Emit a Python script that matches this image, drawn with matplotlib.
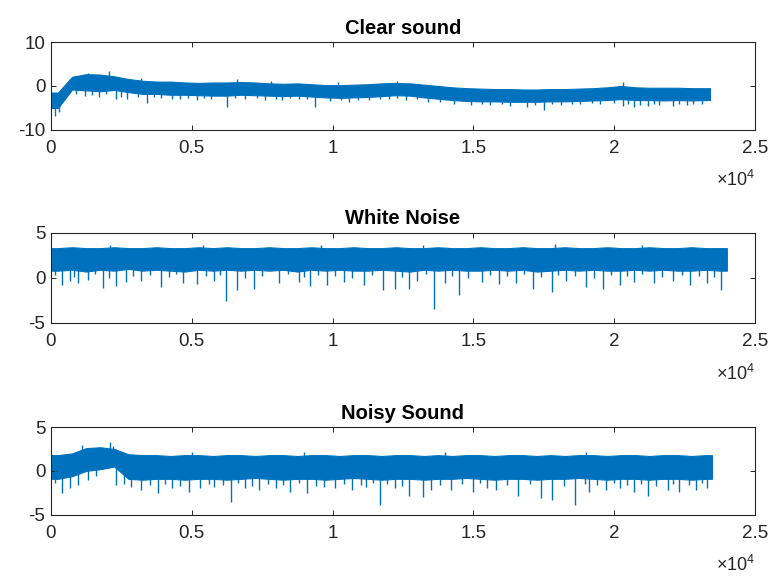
import numpy as np
import matplotlib
matplotlib.use("Agg")
import matplotlib.pyplot as plt

plt.rcParams['font.family'] = ['Liberation Sans', 'DejaVu Sans']
plt.rcParams['mathtext.fontset'] = 'custom'
plt.rcParams['mathtext.rm'] = 'Liberation Sans'
plt.rcParams['axes.unicode_minus'] = False

BIN = 500  # samples per envelope bin

# --- clear sound: envelope per 500-sample bin, plus single dips/peaks
clear_end = 23400
clear_upper = [-1.5, 2.1, 2.7, 2.6, 2.2, 1.6, 1.2, 1.0, 1.0, 0.8,
               0.7, 0.8, 0.8, 0.9, 0.8, 0.6, 0.5, 0.6, 0.4, 0.2,
               0.2, 0.3, 0.4, 0.6, 0.7, 0.6, 0.3, 0.0, -0.3, -0.5,
               -0.6, -0.7, -0.7, -0.8, -0.8, -0.7, -0.7, -0.6, -0.5, -0.3,
               0.0, -0.3, -0.4, -0.4, -0.4, -0.5, -0.5]
clear_lower = [-5.0, -0.8, -1.0, -1.2, -0.9, -1.4, -1.8, -1.8, -2.0, -2.0,
               -2.1, -2.2, -2.2, -2.0, -2.1, -2.2, -2.3, -2.2, -2.4, -2.6,
               -2.7, -2.6, -2.5, -2.3, -2.1, -2.2, -2.6, -2.9, -3.2, -3.4,
               -3.5, -3.5, -3.6, -3.6, -3.6, -3.5, -3.5, -3.4, -3.3, -3.2,
               -3.0, -3.2, -3.2, -3.3, -3.2, -3.3, -3.2]
clear_dip_x = [150, 300, 900, 1200, 1700, 2300, 2700, 3100, 3400, 3900,
               4300, 4600, 5200, 5700, 6250, 6900, 7300, 7600, 8200, 8800,
               9370, 9900, 10600, 11300, 12000, 12600, 13400, 14300, 14900, 15600,
               16300, 16900, 17500, 18100, 18800, 19500, 20300, 20700, 21200, 21600,
               22100, 22600, 23100,
               650, 1450, 1950, 2500, 3650, 4850, 5450, 6550, 8000, 8500,
               9100, 10300, 10900, 11700, 12300, 13000, 13800, 15300, 16000, 17200,
               17800, 18500, 19200, 20000, 20500, 20900, 21400, 22300, 22800]
clear_dip_y = [-6.8, -6.0, -1.8, -2.2, -2.5, -2.9, -3.0, -2.6, -3.9, -2.8,
               -3.0, -3.0, -3.2, -2.9, -4.7, -3.0, -2.8, -3.1, -3.3, -2.9,
               -4.7, -3.4, -3.6, -3.3, -3.0, -3.3, -3.6, -4.0, -4.3, -4.4,
               -4.6, -4.8, -5.5, -4.4, -4.2, -4.1, -4.6, -4.8, -4.5, -4.4,
               -4.6, -4.4, -4.2,
               -1.6, -2.0, -1.9, -2.4, -2.6, -2.7, -2.8, -2.7, -2.9, -2.8,
               -2.9, -3.2, -3.2, -3.0, -2.8, -3.0, -3.6, -4.0, -4.1, -4.3,
               -4.1, -4.0, -3.9, -3.8, -4.2, -4.4, -4.1, -4.0, -4.1]
clear_peak_x = [1300, 2050, 3200, 6600, 7800, 10200, 12300, 20300]
clear_peak_y = [3.0, 3.4, 1.8, 1.5, 1.2, 0.9, 1.2, 0.8]

# --- white noise
white_end = 24000
white_upper = [3.3, 3.4, 3.3, 3.3, 3.4, 3.3, 3.3, 3.4, 3.3, 3.3,
               3.4, 3.3, 3.4, 3.3, 3.3, 3.4, 3.3, 3.3, 3.4, 3.3,
               3.3, 3.4, 3.3, 3.3, 3.4, 3.3, 3.3, 3.4, 3.3, 3.3,
               3.4, 3.3, 3.3, 3.4, 3.3, 3.3, 3.4, 3.3, 3.3, 3.4,
               3.3, 3.3, 3.4, 3.3, 3.3, 3.4, 3.3, 3.3]
white_lower = [0.8, 0.9, 0.7, 0.9, 0.8, 1.0, 0.8, 0.9, 0.8, 0.7,
               0.9, 0.8, 0.9, 0.8, 0.9, 0.8, 0.9, 0.7, 0.9, 0.8,
               0.9, 0.8, 0.8, 0.9, 0.8, 0.7, 0.9, 0.8, 0.9, 0.8,
               0.8, 0.9, 0.8, 0.9, 0.7, 0.8, 0.9, 0.8, 0.9, 0.8,
               0.8, 0.9, 0.8, 0.9, 0.8, 0.8, 0.9, 0.8]
white_dip_x = [380, 670, 970, 1300, 1850, 2300, 2650, 3200, 3900, 4700,
               5200, 5800, 6200, 6600, 7200, 8100, 8800, 9200, 9800, 10400,
               11100, 11800, 12200, 12700, 13000, 13600, 14000, 14500, 15300, 15900,
               16500, 17100, 17800, 18300, 19000, 19600, 20200, 20700, 21400, 22100,
               22700, 23300, 23800,
               150, 820, 1550, 2050, 2900, 3500, 4200, 4450, 5500, 6000,
               6900, 7500, 8400, 9000, 9500, 10100, 10700, 11400, 12450, 13300,
               14250, 14800, 15600, 16200, 16800, 17400, 18000, 18600, 19300, 19900,
               20450, 21000, 21700, 22400, 23000, 23550]
white_dip_y = [-0.8, -0.3, -0.6, -0.2, -1.1, -0.9, -0.5, -0.4, -1.0, -0.6,
               -0.7, -0.4, -2.6, -1.3, -1.2, -0.6, -0.5, -0.9, -0.8, -0.5,
               -0.8, -1.3, -1.2, -1.2, -0.4, -3.4, -0.6, -1.9, -0.5, -0.7,
               -0.6, -1.2, -1.6, -0.4, -1.0, -1.2, -0.8, -0.5, -0.6, -0.4,
               -0.8, -0.6, -1.4,
               0.3, 0.1, 0.4, 0.0, 0.2, 0.3, 0.1, 0.4, 0.2, 0.3,
               0.0, 0.2, 0.4, 0.1, 0.3, 0.2, 0.0, 0.3, 0.1, 0.4,
               0.2, 0.0, 0.3, 0.2, 0.4, 0.1, 0.3, 0.2, 0.0, 0.3,
               0.2, 0.4, 0.1, 0.3, 0.2, 0.1]
white_peak_x = [2100, 5400, 9600, 13200, 17900, 21000]
white_peak_y = [3.7, 3.6, 3.7, 3.6, 3.8, 3.6]

# --- noisy sound
noisy_end = 23470
noisy_upper = [1.8, 2.0, 2.6, 2.7, 2.5, 1.9, 1.8, 1.8, 1.7, 1.8,
               1.8, 1.7, 1.8, 1.8, 1.7, 1.8, 1.8, 1.7, 1.8, 1.8,
               1.7, 1.8, 1.8, 1.7, 1.8, 1.8, 1.7, 1.8, 1.7, 1.8,
               1.8, 1.7, 1.8, 1.8, 1.7, 1.8, 1.7, 1.8, 1.8, 1.7,
               1.8, 1.8, 1.7, 1.8, 1.8, 1.7, 1.8]
noisy_lower = [-0.9, -0.6, 0.0, 0.2, 0.5, -0.9, -1.0, -0.9, -0.9, -1.0,
               -0.9, -0.9, -1.0, -0.9, -0.8, -0.9, -1.0, -0.9, -0.9, -1.0,
               -0.9, -0.8, -0.9, -1.0, -0.9, -0.9, -1.0, -0.9, -0.9, -0.8,
               -0.9, -1.0, -0.9, -0.9, -1.0, -0.9, -0.9, -0.8, -0.9, -1.0,
               -0.9, -0.9, -1.0, -0.9, -0.9, -1.0, -0.9]
noisy_dip_x = [380, 670, 970, 1300, 2300, 2850, 3200, 3800, 4300, 4900,
               5300, 5800, 6400, 6900, 7400, 8000, 8500, 9100, 9700, 10100,
               10700, 11200, 11700, 12200, 12700, 13200, 13500, 14200, 15000, 15500,
               15800, 16600, 17400, 17800, 18600, 19100, 19700, 20200, 20700, 21200,
               21900, 22300, 22900, 23300,
               150, 1600, 2600, 3500, 4050, 4600, 5600, 6100, 6650, 7150,
               7700, 8250, 8800, 9400, 10400, 11000, 11450, 11950, 12450, 13800,
               14600, 15250, 16200, 17000, 18200, 18950, 19400, 20000, 20450, 20950,
               21500, 22100, 22650, 23100]
noisy_dip_y = [-2.5, -2.0, -1.6, -1.0, -1.6, -1.8, -2.2, -2.5, -2.0, -2.4,
               -2.0, -1.8, -3.5, -2.0, -2.2, -2.0, -2.4, -2.5, -1.8, -2.0,
               -2.2, -1.8, -3.9, -2.0, -2.9, -3.0, -2.2, -2.2, -2.4, -2.0,
               -2.2, -2.9, -3.1, -3.3, -3.9, -2.4, -2.2, -2.0, -2.4, -2.9,
               -2.2, -2.4, -2.2, -2.0,
               -1.4, -0.6, -1.5, -1.6, -1.5, -1.7, -1.5, -1.6, -1.4, -1.7,
               -1.5, -1.6, -1.4, -1.7, -1.5, -1.6, -1.4, -1.5, -1.7, -1.6,
               -1.5, -1.4, -1.6, -1.5, -1.7, -1.5, -1.6, -1.4, -1.6, -1.5,
               -1.7, -1.5, -1.6, -1.4]
noisy_peak_x = [1100, 2100, 2200, 5000, 9000, 14000, 19000]
noisy_peak_y = [2.9, 3.3, 2.8, 2.2, 2.2, 2.2, 2.2]

titles = ['Clear sound', 'White Noise', 'Noisy Sound']
ylims = [(-10, 10), (-5, 5), (-5, 5)]
yticks = [[-10, 0, 10], [-5, 0, 5], [-5, 0, 5]]
xticks = [0, 5000, 10000, 15000, 20000, 25000]
xticklabels = ['0', '0.5', '1', '1.5', '2', '2.5']

signals = [
    (clear_end, clear_upper, clear_lower, clear_dip_x, clear_dip_y, clear_peak_x, clear_peak_y),
    (white_end, white_upper, white_lower, white_dip_x, white_dip_y, white_peak_x, white_peak_y),
    (noisy_end, noisy_upper, noisy_lower, noisy_dip_x, noisy_dip_y, noisy_peak_x, noisy_peak_y),
]

blue = '#0072BD'
dark = '#262626'

fig = plt.figure(figsize=(7.72, 5.85), dpi=100)
boxes = [[0.066, 0.778, 0.912, 0.150],
         [0.066, 0.448, 0.912, 0.154],
         [0.066, 0.120, 0.912, 0.150]]

for k in range(3):
    ax = fig.add_axes(boxes[k])
    end, up, lo, dx, dy, px, py = signals[k]
    up = np.array(up)
    lo = np.array(lo)
    # envelope through the bin centres, held flat to the first and last sample
    centres = np.arange(len(up)) * BIN + BIN / 2
    centres[-1] = min(centres[-1], end - 50)
    xs = np.concatenate([[0], centres, [end]])
    ys_up = np.concatenate([[up[0]], up, [up[-1]]])
    ys_lo = np.concatenate([[lo[0]], lo, [lo[-1]]])
    ax.fill_between(xs, ys_lo, ys_up, color=blue, lw=0.8, edgecolor=blue)

    # single spikes reaching out of the band
    mid = (up + lo) / 2
    idx = np.clip(np.array(dx) // BIN, 0, len(up) - 1)
    ax.vlines(dx, dy, mid[idx], color=blue, lw=1.0)
    idx = np.clip(np.array(px) // BIN, 0, len(up) - 1)
    ax.vlines(px, mid[idx], py, color=blue, lw=1.0)

    ax.set_xlim(0, 25000)
    ax.set_ylim(*ylims[k])
    ax.set_xticks(xticks)
    ax.set_xticklabels(xticklabels)
    ax.set_yticks(yticks[k])
    ax.tick_params(direction='in', top=True, right=True, length=3.5,
                   width=0.7, colors=dark, labelsize=13.5)
    ax.tick_params(axis='x', pad=7)
    ax.tick_params(axis='y', pad=4)
    for s in ax.spines.values():
        s.set_color(dark)
        s.set_linewidth(0.8)
    ax.set_title(titles[k], fontsize=14.5, fontweight='bold', color='black', pad=6)
    ax.text(1.0, -0.57, r'$\times\mathregular{10^{4}}$', transform=ax.transAxes,
            ha='right', va='center', fontsize=13, color=dark)

fig.savefig('out.png', dpi=100)
